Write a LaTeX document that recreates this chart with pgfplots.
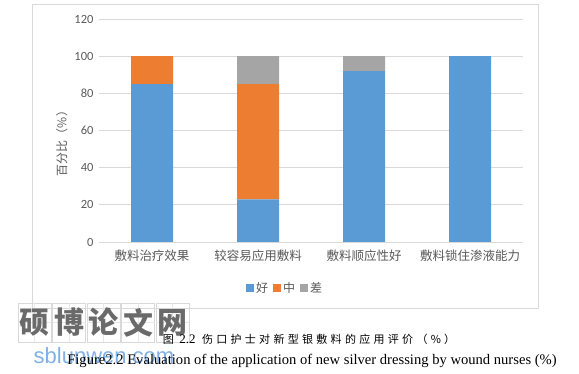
\documentclass[border=0pt]{standalone}
\usepackage{pgfplots}
\pgfplotsset{compat=1.18}
\usepackage{fontspec}
\setmainfont{Liberation Serif}
\newfontfamily\cjk{Noto Sans CJK SC}
\newfontfamily\cjkls[LetterSpace=30]{Noto Sans CJK SC}
\newfontfamily\carlito{Carlito}
\newfontfamily\wmsans{Liberation Sans}
\definecolor{cblue}{HTML}{5B9BD5}
\definecolor{corange}{HTML}{ED7D31}
\definecolor{cgray}{HTML}{A5A5A5}
\definecolor{gridc}{HTML}{D9D9D9}
\definecolor{txt}{HTML}{595959}
\definecolor{wmgray}{HTML}{6A6A6A}
\definecolor{wmblue}{HTML}{7FB0E6}
\begin{document}
\begin{tikzpicture}
\path[use as bounding box] (0pt,0pt) rectangle (579pt,374pt);
\draw[color=gridc, line width=0.75pt] (32pt,370pt) rectangle (538pt,66pt);
\begin{axis}[
  at={(99pt,132pt)}, anchor=south west,
  width=424pt, height=223pt, scale only axis,
  ybar stacked, bar width=42pt,
  ymin=0, ymax=120, xmin=-0.5, xmax=3.5,
  ytick={0,20,...,120},
  xtick={0,1,2,3},
  xticklabels={敷料治疗效果,较容易应用敷料,敷料顺应性好,敷料锁住渗液能力},
  axis line style={draw=none},
  tick style={draw=none},
  ymajorgrids, grid style={color=gridc, line width=0.75pt},
  yticklabel style={font=\fontsize{12.5}{14}\selectfont\carlito, text=txt, /pgf/number format/assume math mode=true, xshift=-2pt},
  xticklabel style={font=\fontsize{12.5}{14}\selectfont\cjk, text=txt, yshift=-4pt},
  ylabel={\cjk 百分比（\%）},
  ylabel style={font=\fontsize{12}{14}\selectfont, text=txt},
  every axis y label/.append style={at={(ticklabel cs:0.5)}, xshift=-10pt},
  legend style={at={(axis description cs:0.4387,-0.206)}, anchor=center, draw=none, fill=none,
    font=\fontsize{12}{14}\selectfont\cjk, text=txt, column sep=3pt,
    /tikz/every odd column/.append style={column sep=0pt}},
  legend columns=3,
  legend image code/.code={\fill[#1] (0pt,-4pt) rectangle (8pt,4pt);},
]
\addplot[fill=cblue, draw=none] coordinates {(0,85) (1,23) (2,92) (3,100)};
\addplot[fill=corange, draw=none] coordinates {(0,15) (1,62) (2,0) (3,0)};
\addplot[fill=cgray, draw=none] coordinates {(0,0) (1,15) (2,8) (3,0)};
\legend{好,中,差}
\end{axis}
% watermark
\foreach \i in {0,1,2,3,4} {
  \draw[color=gridc, line width=0.6pt] ({18pt+\i*34.5pt},32pt) rectangle ({18pt+\i*34.5pt+33pt},71pt);
  \draw[color=gridc!60, line width=0.4pt] ({18pt+\i*34.5pt+16.5pt},32pt) -- ({18pt+\i*34.5pt+16.5pt},71pt);
  \draw[color=gridc!60, line width=0.4pt] ({18pt+\i*34.5pt},51.5pt) -- ({18pt+\i*34.5pt+33pt},51.5pt);
}
\foreach \c [count=\i from 0] in {硕,博,论,文,网} {
  \node[font=\fontsize{30}{32}\selectfont\cjk\bfseries, text=wmgray] at ({18pt+\i*34.5pt+16.5pt},51.5pt) {\c};
}
\node[font=\fontsize{22}{24}\selectfont\wmsans, text=wmblue, anchor=center] at (104pt,18pt) {sblunwen.com};
% captions
\node[anchor=center, font=\fontsize{11}{13}\selectfont] at (309pt,35pt) {{\cjkls 图}\ \ \fontsize{13}{15}\selectfont 2.2\ \ {\fontsize{11}{13}\selectfont\cjkls 伤口护士对新型银敷料的应用评价（\%）}};
\node[anchor=center, font=\fontsize{14.6}{16}\selectfont] at (312pt,13pt) {Figure2.2 Evaluation of the application of new silver dressing by wound nurses (\%)};
\end{tikzpicture}
\end{document}
